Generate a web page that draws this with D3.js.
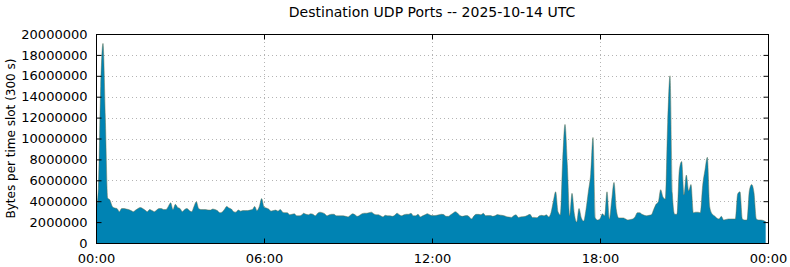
<!DOCTYPE html>
<meta charset="utf-8">
<html lang="en">
<head>
    <title>Destination UDP Ports</title>
    <script src="https://d3js.org/d3.v7.min.js"></script>
    <style>
        body { margin: 0; background: #fff; }
        text { font-family: "DejaVu Sans", sans-serif; fill: #000; }
    </style>
</head>
<body>
    <div id="chart"></div>
    <script>
        // one value per 5 minute slot (288 slots), in millions of bytes
        const slotMinutes = 5;
        const bytesMillions = [
            3.2, 5.2, 15.0, 19.1, 12.0, 4.3, 4.1, 3.5, 3.35, 3.3, 3.0, 3.3, 3.3, 3.25, 3.2, 3.1,
            3.0, 3.15, 3.3, 3.4, 3.3, 3.15, 3.0, 3.2, 3.1, 3.0, 3.15, 3.3, 3.3, 3.2, 3.2, 3.5,
            3.85, 3.2, 3.7, 3.4, 3.3, 3.0, 3.2, 3.3, 3.1, 3.0, 3.5, 3.95, 3.3, 3.2, 3.2, 3.2,
            3.16, 3.15, 3.25, 3.2, 3.1, 2.9, 2.95, 3.2, 3.5, 3.35, 3.25, 3.0, 2.95, 3.16, 3.05, 3.1,
            3.1, 3.1, 3.15, 3.2, 3.5, 3.1, 3.5, 4.25, 3.45, 3.35, 3.25, 3.05, 3.1, 3.15, 3.05, 3.2,
            2.95, 2.9, 2.9, 2.7, 2.75, 2.8, 2.6, 2.6, 2.65, 2.85, 2.75, 2.7, 2.8, 2.75, 2.6, 2.85,
            2.95, 2.9, 2.8, 2.6, 2.7, 2.75, 2.75, 2.6, 2.6, 2.6, 2.6, 2.55, 2.5, 2.65, 2.8, 2.7,
            2.55, 2.65, 2.8, 2.85, 2.85, 2.9, 2.95, 2.8, 2.7, 2.7, 2.6, 2.5, 2.65, 2.6, 2.6, 2.55,
            2.65, 2.85, 2.7, 2.6, 2.7, 2.75, 2.75, 2.85, 2.6, 2.6, 2.75, 2.5, 2.6, 2.7, 2.8, 2.7,
            2.62, 2.62, 2.65, 2.7, 2.75, 2.72, 2.55, 2.55, 2.7, 2.85, 3.0, 2.85, 2.62, 2.55, 2.6, 2.62,
            2.5, 2.3, 2.6, 2.74, 2.74, 2.7, 2.84, 2.6, 2.62, 2.62, 2.55, 2.6, 2.72, 2.68, 2.65, 2.6,
            2.52, 2.48, 2.45, 2.6, 2.7, 2.45, 2.5, 2.52, 2.55, 2.65, 2.74, 2.45, 2.45, 2.42, 2.6, 2.65,
            2.6, 2.7, 2.5, 2.9, 4.0, 4.9, 3.0, 2.7, 7.9, 11.35, 7.5, 2.6, 4.75, 2.8, 2.0, 3.3,
            2.4, 2.1, 3.2, 4.9, 6.6, 10.1, 2.4, 2.2, 2.3, 2.8, 2.6, 4.9, 2.3, 4.1, 5.8, 3.2,
            2.4, 2.4, 2.4, 2.3, 2.2, 2.25, 2.3, 2.5, 2.9, 2.9, 2.75, 2.65, 2.6, 2.65, 2.7, 3.2,
            3.7, 3.95, 5.1, 4.4, 4.2, 11.5, 16.0, 4.75, 2.75, 2.75, 7.0, 7.8, 4.6, 6.5, 5.0, 5.6,
            2.9, 2.95, 2.95, 2.9, 5.5, 7.0, 8.2, 3.5, 2.8, 2.6, 2.4, 2.3, 2.55, 2.2, 2.25, 2.3,
            2.3, 2.3, 2.3, 4.7, 4.9, 2.3, 2.2, 2.2, 5.0, 5.6, 4.8, 2.3, 2.2, 2.2, 2.15, 2.05
        ];
        const yTicks = [0, 2000000, 4000000, 6000000, 8000000, 10000000, 12000000,
            14000000, 16000000, 18000000, 20000000];
        const xTickHours = [0, 6, 12, 18, 24];
        const xTickLabels = ["00:00", "06:00", "12:00", "18:00", "00:00"];

        const width = 790,
            height = 267;
        const plot = { left: 96, right: 768, top: 34, bottom: 243 };

        // minutes since midnight -> bytes
        const data = bytesMillions.map((v, i) => ({ t: i * slotMinutes, bytes: v * 1e6 }));

        const svg = d3.select("#chart")
            .append("svg")
            .attr("width", width)
            .attr("height", height);

        const x = d3.scaleLinear()
            .domain([0, 24 * 60])
            .range([plot.left, plot.right]);

        const y = d3.scaleLinear()
            .domain([0, 20000000])
            .range([plot.bottom, plot.top]);

        svg.append("clipPath")
            .attr("id", "plot-clip")
            .append("rect")
            .attr("x", plot.left)
            .attr("y", plot.top)
            .attr("width", plot.right - plot.left)
            .attr("height", plot.bottom - plot.top);

        // dotted grid
        const grid = svg.append("g")
            .attr("stroke", "#b4b4b4")
            .attr("stroke-width", 1)
            .attr("stroke-dasharray", "1,3");

        grid.selectAll(".hgrid")
            .data(yTicks.slice(1, -1))
            .enter()
            .append("line")
            .attr("x1", plot.left)
            .attr("x2", plot.right)
            .attr("y1", (d) => Math.round(y(d)) + 0.5)
            .attr("y2", (d) => Math.round(y(d)) + 0.5);

        grid.selectAll(".vgrid")
            .data(xTickHours.slice(1, -1))
            .enter()
            .append("line")
            .attr("x1", (d) => Math.round(x(d * 60)) + 0.5)
            .attr("x2", (d) => Math.round(x(d * 60)) + 0.5)
            .attr("y1", plot.top)
            .attr("y2", plot.bottom);

        // area (smoothed like the original)
        const area = d3.area()
            .curve(d3.curveMonotoneX)
            .x((d) => x(d.t))
            .y0(y(0))
            .y1((d) => y(d.bytes));

        const line = d3.line()
            .curve(d3.curveMonotoneX)
            .x((d) => x(d.t))
            .y((d) => y(d.bytes));

        const g = svg.append("g").attr("clip-path", "url(#plot-clip)");

        g.append("path")
            .datum(data)
            .attr("d", area)
            .attr("fill", "#0083b3");

        g.append("path")
            .datum(data)
            .attr("d", line)
            .attr("fill", "none")
            .attr("stroke", "#66704a")
            .attr("stroke-opacity", 0.8)
            .attr("stroke-width", 0.6);

        // axes: ticks inward, mirrored on all sides
        const tickLen = 5;
        const yFmt = d3.format("d");

        svg.append("g")
            .attr("transform", `translate(${plot.left + 0.5},0)`)
            .call(d3.axisLeft(y).tickValues(yTicks).tickSizeInner(-tickLen).tickSizeOuter(0)
                .tickPadding(9).tickFormat(yFmt))
            .call((a) => a.select(".domain").remove())
            .call((a) => a.selectAll("text").attr("font-size", 13).attr("font-family", "DejaVu Sans"));

        svg.append("g")
            .attr("transform", `translate(${plot.right + 0.5},0)`)
            .call(d3.axisRight(y).tickValues(yTicks).tickSizeInner(-tickLen).tickSizeOuter(0)
                .tickFormat(""))
            .call((a) => a.select(".domain").remove());

        svg.append("g")
            .attr("transform", `translate(0,${plot.bottom + 0.5})`)
            .call(d3.axisBottom(x).tickValues(xTickHours.map((h) => h * 60))
                .tickSizeInner(-tickLen).tickSizeOuter(0).tickPadding(10)
                .tickFormat((d, i) => xTickLabels[i]))
            .call((a) => a.select(".domain").remove())
            .call((a) => a.selectAll("text").attr("font-size", 13).attr("font-family", "DejaVu Sans"));

        svg.append("g")
            .attr("transform", `translate(0,${plot.top + 0.5})`)
            .call(d3.axisTop(x).tickValues(xTickHours.map((h) => h * 60))
                .tickSizeInner(-tickLen).tickSizeOuter(0).tickFormat(""))
            .call((a) => a.select(".domain").remove());

        // border
        svg.append("rect")
            .attr("x", plot.left + 0.5)
            .attr("y", plot.top + 0.5)
            .attr("width", plot.right - plot.left)
            .attr("height", plot.bottom - plot.top)
            .attr("fill", "none")
            .attr("stroke", "#000")
            .attr("stroke-width", 1);

        // title and axis label
        svg.append("text")
            .attr("x", (plot.left + plot.right) / 2)
            .attr("y", 17)
            .attr("text-anchor", "middle")
            .attr("font-size", 14)
            .text("Destination UDP Ports -- 2025-10-14 UTC");

        svg.append("text")
            .attr("transform", `translate(15,${(plot.top + plot.bottom) / 2}) rotate(-90)`)
            .attr("text-anchor", "middle")
            .attr("font-size", 12)
            .text("Bytes per time slot (300 s)");
    </script>
</body>
</html>
